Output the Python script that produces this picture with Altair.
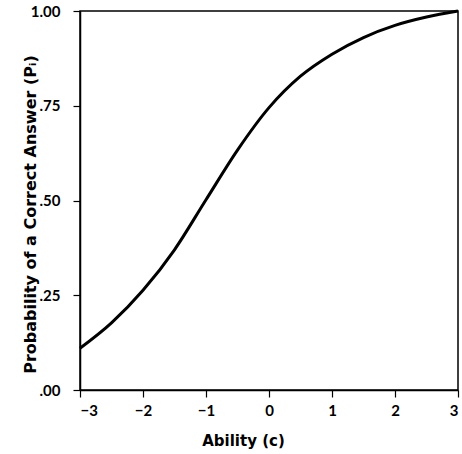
import altair as alt
import pandas as pd

ability = [-3.0, -2.5, -2.0, -1.5, -1.0, -0.5, 0.0, 0.5, 1.0, 1.5, 2.0, 2.5, 3.0]
prob = [0.11, 0.177, 0.263, 0.37, 0.502, 0.633, 0.745, 0.828, 0.886, 0.93, 0.962, 0.984, 1.0]

x_ticks = [-3, -2, -1, 0, 1, 2, 3]
y_ticks = [0.0, 0.25, 0.5, 0.75, 1.0]
y_tick_labels = [".00", ".25", ".50", ".75", "1.00"]

df = pd.DataFrame({"ability": ability, "prob": prob})

label_map = "{" + ",".join(f"'{v:g}': '{l}'" for v, l in zip(y_ticks, y_tick_labels)) + "}"
label_expr = f"{label_map}[toString(datum.value)]"

LABEL_FONT = "Lato"
TITLE_FONT = "DejaVu Sans"

chart = alt.Chart(df).mark_line(color="black", strokeWidth=3, interpolate="monotone").encode(
    x=alt.X("ability:Q",
            scale=alt.Scale(domain=[-3, 3], nice=False, zero=False),
            axis=alt.Axis(values=x_ticks, title="Ability (c)", grid=False,
                          domainColor="black", domainWidth=1.5,
                          tickColor="black", tickSize=7, tickWidth=1.2,
                          labelFont=LABEL_FONT, labelFontSize=15, labelFontWeight="bold",
                          labelColor="black", labelPadding=6,
                          titleFont=TITLE_FONT, titleFontSize=15, titleFontWeight="bold",
                          titleColor="black", titleX=163, titleY=43, titleAlign="center")),
    y=alt.Y("prob:Q",
            scale=alt.Scale(domain=[0, 1], nice=False, zero=False),
            axis=alt.Axis(values=y_ticks, labelExpr=label_expr,
                          title="Probability of a Correct Answer (Pᵢ)", grid=False,
                          domainColor="black", domainWidth=1.5,
                          tickColor="black", tickSize=7, tickWidth=1.2,
                          labelFont=LABEL_FONT, labelFontSize=15, labelFontWeight="bold",
                          labelColor="black", labelPadding=13,
                          titleFont=TITLE_FONT, titleFontSize=16, titleFontWeight="bold",
                          titleColor="black", titleX=-50, titleY=203,
                          titleAngle=-90, titleBaseline="middle", titleAlign="center")),
).properties(
    width=378, height=379,
    padding={"left": 80, "top": 11, "right": 4, "bottom": 64},
    autosize=alt.AutoSizeParams(type="none"),
    background="white",
).configure_view(stroke="black", strokeWidth=1.5)

chart.save("out.html", embed_options={"renderer": "svg", "actions": False})
